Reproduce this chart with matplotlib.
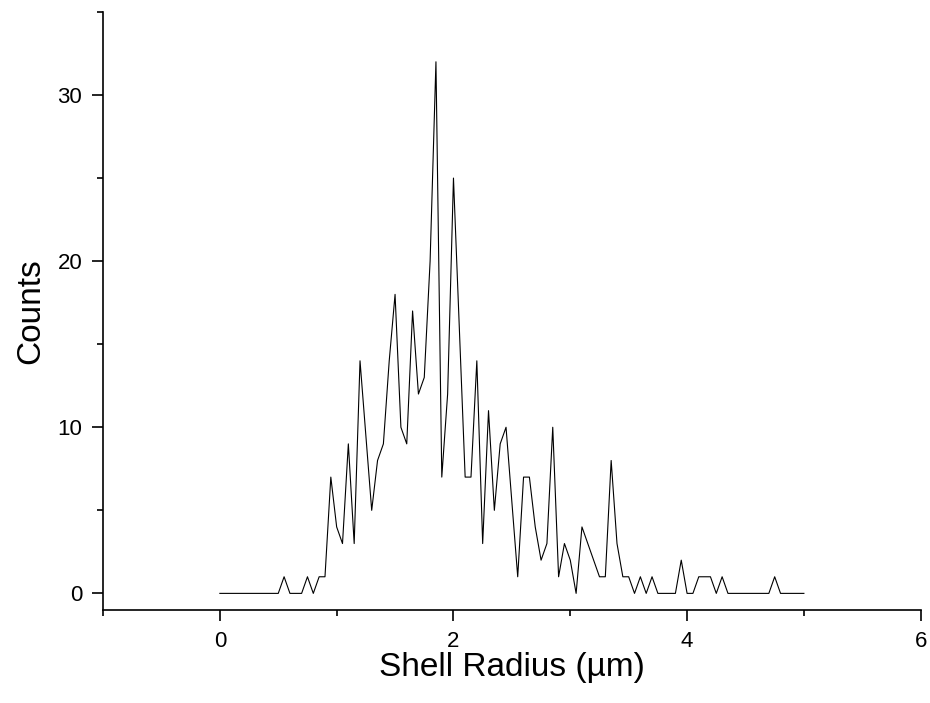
import matplotlib
matplotlib.use("Agg")
import matplotlib.pyplot as plt
from matplotlib.ticker import MultipleLocator

plt.rcParams['font.family'] = ['Liberation Sans', 'DejaVu Sans']

# shell radius (um) - a few bins are absent in the source trace
radius = [0.00, 0.05, 0.10, 0.15, 0.20, 0.25, 0.30, 0.35, 0.40, 0.45,
          0.50, 0.55, 0.60, 0.65, 0.70, 0.75, 0.80, 0.85, 0.90, 0.95,
          1.00, 1.05, 1.10, 1.15, 1.20, 1.30, 1.35, 1.40, 1.45,
          1.50, 1.55, 1.60, 1.65, 1.70, 1.75, 1.80, 1.85, 1.90, 1.95,
          2.00, 2.10, 2.15, 2.20, 2.25, 2.30, 2.35, 2.40, 2.45,
          2.55, 2.60, 2.65, 2.70, 2.75, 2.80, 2.85, 2.90, 2.95,
          3.00, 3.05, 3.10, 3.15, 3.20, 3.25, 3.30, 3.35, 3.40, 3.45,
          3.50, 3.55, 3.60, 3.65, 3.70, 3.75, 3.80, 3.85, 3.90, 3.95,
          4.00, 4.05, 4.10, 4.15, 4.20, 4.25, 4.30, 4.35, 4.40, 4.45,
          4.50, 4.55, 4.60, 4.65, 4.70, 4.75, 4.80, 4.85, 4.90, 4.95,
          5.00]
counts = [0, 0, 0, 0, 0, 0, 0, 0, 0, 0,
          0, 1, 0, 0, 0, 1, 0, 1, 1, 7,
          4, 3, 9, 3, 14, 5, 8, 9, 14,
          18, 10, 9, 17, 12, 13, 20, 32, 7, 12,
          25, 7, 7, 14, 3, 11, 5, 9, 10,
          1, 7, 7, 4, 2, 3, 10, 1, 3,
          2, 0, 4, 3, 2, 1, 1, 8, 3, 1,
          1, 0, 1, 0, 1, 0, 0, 0, 0, 2,
          0, 0, 1, 1, 1, 0, 1, 0, 0, 0,
          0, 0, 0, 0, 0, 1, 0, 0, 0, 0,
          0]

fig = plt.figure(figsize=(9.3, 7.03), dpi=100)
ax = fig.add_axes([0.1108, 0.1323, 0.8792, 0.8507])
ax.plot(radius, counts, color='black', lw=0.8)

ax.set_xlim(-1, 6)
ax.set_ylim(-1, 35)
ax.xaxis.set_major_locator(MultipleLocator(2))
ax.xaxis.set_minor_locator(MultipleLocator(1))
ax.yaxis.set_major_locator(MultipleLocator(10))
ax.yaxis.set_minor_locator(MultipleLocator(5))

for s in ['top', 'right']:
    ax.spines[s].set_visible(False)
for s in ['left', 'bottom']:
    ax.spines[s].set_linewidth(1.2)

ax.tick_params(which='major', direction='out', length=8, width=1.2, labelsize=16, pad=7)
ax.tick_params(which='minor', direction='out', length=4, width=1.2)

ax.set_xlabel('Shell Radius (µm)', fontsize=24, labelpad=0)
ax.set_ylabel('Counts', fontsize=24, labelpad=8)

fig.savefig('out.png', dpi=100)
